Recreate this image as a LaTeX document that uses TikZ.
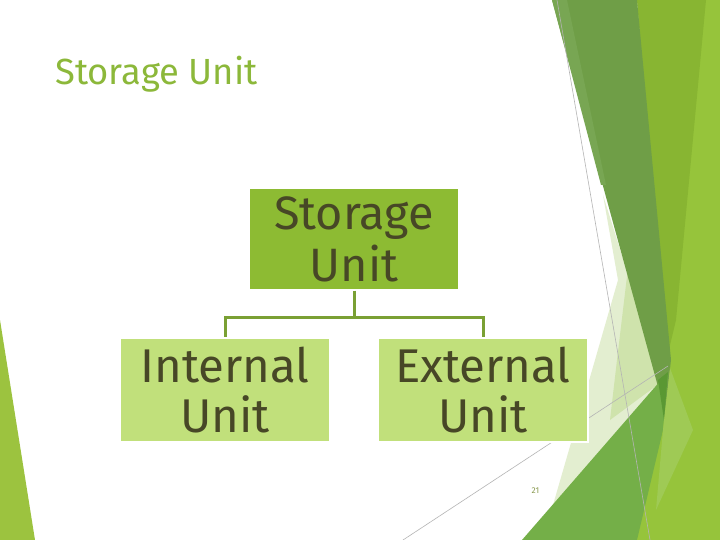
\documentclass[tikz,border=0pt]{standalone}
\usepackage{fontspec}
\setmainfont{Fira Sans}
\definecolor{titlegreen}{HTML}{8CB83A}
\definecolor{topfill}{HTML}{8DBB33}
\definecolor{subfill}{HTML}{C1E07B}
\definecolor{txtdark}{HTML}{474726}
\definecolor{linkgreen}{HTML}{7AA034}
\definecolor{leftgreen}{HTML}{9CC33F}
\definecolor{ygback}{HTML}{96C43B}
\definecolor{ygmid}{HTML}{88B532}
\definecolor{paleA}{HTML}{E3EED0}
\definecolor{paleB}{HTML}{CFE3AC}
\definecolor{darkband}{HTML}{6F9E47}
\definecolor{darkstrip}{HTML}{78A653}
\definecolor{greenG}{HTML}{74AF48}
\definecolor{tipgreen}{HTML}{5A9833}
\definecolor{lightstrip}{HTML}{9FCA55}
\definecolor{hairline}{HTML}{B4B4B4}
\definecolor{pagenum}{HTML}{8A9A50}
\tikzset{
  hair/.style={draw=hairline, line width=0.6bp},
  topbox/.style={draw=white, line width=1.5bp, fill=topfill, minimum width=210bp, minimum height=102bp, inner sep=0pt, align=center, text=txtdark, font=\fontsize{47}{52}\selectfont},
  subbox/.style={draw=white, line width=1.5bp, fill=subfill, minimum width=210bp, minimum height=104bp, inner sep=0pt, align=center, text=txtdark, font=\fontsize{47.5}{51}\selectfont},
  link/.style={draw=linkgreen, line width=3bp}
}
\begin{document}
\begin{tikzpicture}[x=1bp,y=-1bp]
\useasboundingbox (0,0) rectangle (720,540);
\fill[white] (0,0) rectangle (720,540);
% left decoration
\fill[leftgreen] (0,320) -- (35,540) -- (0,540) -- cycle;
% right decoration
\fill[ygback] (637,0) -- (720,0) -- (720,540) -- (620,540) -- (668,378) -- cycle;
\fill[ygmid] (637,0) -- (706,0) -- (676,320) -- (666,362) -- cycle;
\fill[paleA] (603,195) -- (662,383) -- (553,505) -- (595,360) -- (618,280) -- cycle;
\fill[paleB] (628,268) -- (660,383) -- (610,420) -- (617,360) -- cycle;
\fill[darkband] (552,0) -- (637,0) -- (671,360) -- (664,420) -- (657,383) -- cycle;
\fill[darkstrip] (552,0) -- (567,0) -- (606,185) -- (601,185) -- cycle;
\fill[greenG] (522,540) -- (668,372) -- (663,430) -- (637,540) -- cycle;
\fill[tipgreen] (658,380) -- (668,372) -- (664,420) -- cycle;
\fill[lightstrip] (670,368) -- (693,430) -- (656,510) -- (663,430) -- cycle;
\draw[hair] (557,0) -- (650,540);
\draw[hair] (403,540) -- (668,366);
% title
\node[anchor=base west, inner sep=0pt, text=titlegreen, font=\fontsize{36.5}{42}\selectfont] (title) at (55,85) {Storage Unit};
% boxes
\node[topbox] (top) at (354,239) {Storage\\Unit};
\node[subbox] (int) at (225,390) {Internal\\Unit};
\node[subbox] (ext) at (483,390) {External\\Unit};
\draw[link] (top.south) -- ++(0,27) -| (int.north);
\draw[link] (top.south) -- ++(0,27) -| (ext.north);
% page number
\node[anchor=base, inner sep=0pt, text=pagenum, font=\fontsize{8.5}{10}\selectfont] (pg) at (535.5,493) {21};
\end{tikzpicture}
\end{document}
